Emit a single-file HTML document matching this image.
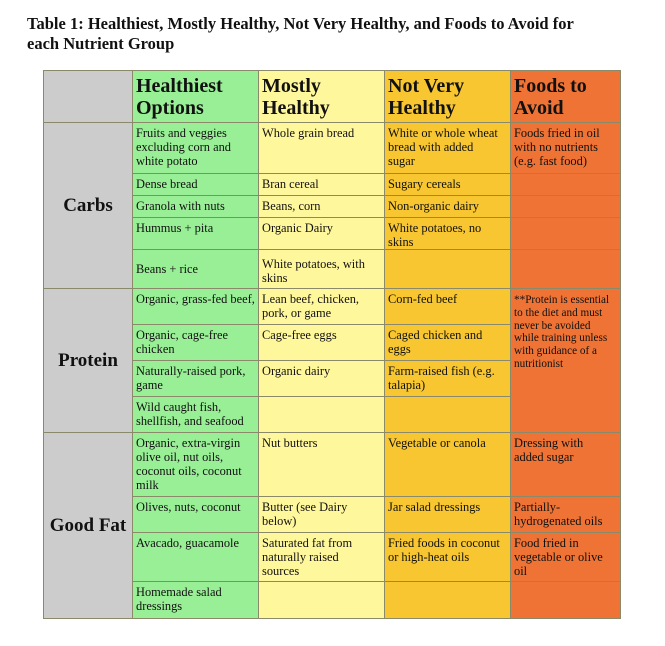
<!DOCTYPE html>
<html><head><style>
body{margin:0;background:#fff;width:665px;height:646px;position:relative;font-family:"Liberation Serif",serif;color:#111}
.title{position:absolute;left:27px;top:14px;font-weight:bold;font-size:16.5px;line-height:20px;width:620px;white-space:nowrap}
table{position:absolute;left:43px;top:70px;border-collapse:collapse;table-layout:fixed}
td{border:1px solid #8a8a6a;vertical-align:top;padding:3px 3px 0 3px;font-size:12.4px;line-height:14px;overflow:hidden;white-space:nowrap}
.g{background:#99ef96}.y{background:#fff79b}.o{background:#f7c630}.r{background:#ef7335}.k{background:#cccccc}
th{font-size:20px;line-height:22px;text-align:left;vertical-align:top;padding:4px 3px 0 3px;border:1px solid #8a8a6a;white-space:nowrap}
.cat{font-weight:bold;font-size:19px;text-align:center;vertical-align:middle;padding:0}
.n{font-size:11.2px;line-height:12.8px}
</style></head><body>
<div class="title">Table 1: Healthiest, Mostly Healthy, Not Very Healthy, and Foods to Avoid for<br>each Nutrient Group</div>
<table>
<colgroup><col style="width:89px"><col style="width:126px"><col style="width:126px"><col style="width:126px"><col style="width:110px"></colgroup>
<tr style="height:52px"><th class="k"></th><th class="g">Healthiest<br>Options</th><th class="y">Mostly<br>Healthy</th><th class="o">Not Very<br>Healthy</th><th class="r">Foods to<br>Avoid</th></tr>
<tr style="height:51px"><td class="k cat" rowspan="5">Carbs</td><td class="g">Fruits and veggies<br>excluding corn and<br>white potato</td><td class="y">Whole grain bread</td><td class="o">White or whole wheat<br>bread with added<br>sugar</td><td class="r">Foods fried in oil<br>with no nutrients<br>(e.g. fast food)</td></tr>
<tr style="height:22px"><td class="g">Dense bread</td><td class="y">Bran cereal</td><td class="o">Sugary cereals</td><td class="r"></td></tr>
<tr style="height:22px"><td class="g">Granola with nuts</td><td class="y">Beans, corn</td><td class="o">Non-organic dairy</td><td class="r"></td></tr>
<tr style="height:31px"><td class="g">Hummus + pita</td><td class="y">Organic Dairy</td><td class="o">White potatoes, no<br>skins</td><td class="r"></td></tr>
<tr style="height:39px"><td class="g" style="vertical-align:middle;padding-top:0">Beans + rice</td><td class="y" style="padding-top:7px">White potatoes, with<br>skins</td><td class="o"></td><td class="r"></td></tr>
<tr style="height:36px"><td class="k cat" rowspan="4">Protein</td><td class="g">Organic, grass-fed beef,</td><td class="y">Lean beef, chicken,<br>pork, or game</td><td class="o">Corn-fed beef</td><td class="r n" rowspan="4" style="padding-top:5px">**Protein is essential<br>to the diet and must<br>never be avoided<br>while training unless<br>with guidance of a<br>nutritionist</td></tr>
<tr style="height:36px"><td class="g">Organic, cage-free<br>chicken</td><td class="y">Cage-free eggs</td><td class="o">Caged chicken and<br>eggs</td></tr>
<tr style="height:36px"><td class="g">Naturally-raised pork,<br>game</td><td class="y">Organic dairy</td><td class="o">Farm-raised fish (e.g.<br>talapia)</td></tr>
<tr style="height:36px"><td class="g">Wild caught fish,<br>shellfish, and seafood</td><td class="y"></td><td class="o"></td></tr>
<tr style="height:64px"><td class="k cat" rowspan="4">Good Fat</td><td class="g">Organic, extra-virgin<br>olive oil, nut oils,<br>coconut oils, coconut<br>milk</td><td class="y">Nut butters</td><td class="o">Vegetable or canola</td><td class="r">Dressing with<br>added sugar</td></tr>
<tr style="height:36px"><td class="g">Olives, nuts, coconut</td><td class="y">Butter (see Dairy<br>below)</td><td class="o">Jar salad dressings</td><td class="r">Partially-<br>hydrogenated oils</td></tr>
<tr style="height:49px"><td class="g">Avacado, guacamole</td><td class="y">Saturated fat from<br>naturally raised<br>sources</td><td class="o">Fried foods in coconut<br>or high-heat oils</td><td class="r">Food fried in<br>vegetable or olive<br>oil</td></tr>
<tr style="height:37px"><td class="g">Homemade salad<br>dressings</td><td class="y"></td><td class="o"></td><td class="r"></td></tr>
</table>
</body></html>
